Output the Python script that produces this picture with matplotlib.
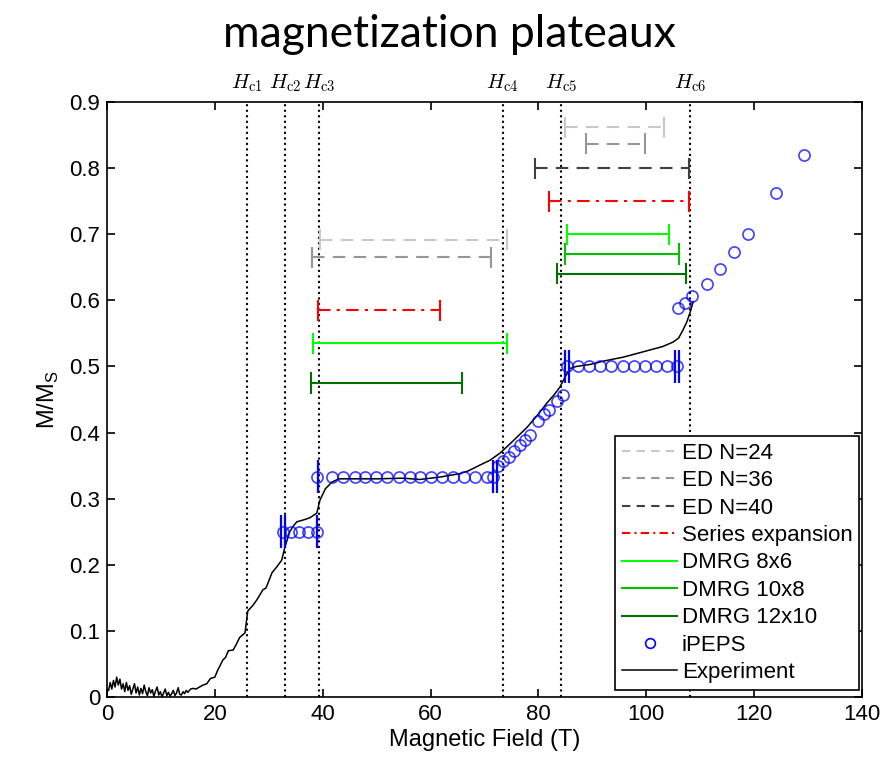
import numpy as np
from matplotlib import pyplot as plt
from matplotlib.lines import Line2D

plt.rcParams['font.family'] = ['Liberation Sans', 'DejaVu Sans']
plt.rcParams['mathtext.fontset'] = 'cm'

# Critical fields
hc_x = [26.0, 33.0, 39.3, 73.4, 84.2, 108.1]
hc_labels = [r'$H_{\mathrm{c1}}$', r'$H_{\mathrm{c2}}$', r'$H_{\mathrm{c3}}$',
             r'$H_{\mathrm{c4}}$', r'$H_{\mathrm{c5}}$', r'$H_{\mathrm{c6}}$']

# Plateau ranges: (x_start, x_end, y) for each method
ed24 = [(39.5, 74.2, 0.692), (84.9, 103.3, 0.862)]
ed36 = [(38.0, 71.2, 0.665), (88.8, 99.8, 0.837)]
ed40 = [(79.4, 107.9, 0.800)]
series = [(39.1, 61.7, 0.585), (82.0, 107.9, 0.750)]
dmrg86 = [(38.2, 74.2, 0.535), (85.3, 104.2, 0.700)]
dmrg108 = [(84.9, 106.1, 0.670)]
dmrg1210 = [(37.8, 65.8, 0.475), (83.4, 107.4, 0.640)]

# iPEPS
ipeps_x = [32.6, 34.1, 35.6, 37.3, 38.9,
           39.0, 41.7, 43.8, 45.9, 47.9, 49.9, 52.0, 54.1, 56.1, 58.1, 60.1,
           62.2, 64.2, 66.2, 68.2, 70.4, 71.5,
           72.5, 73.5, 74.5, 75.5, 76.5, 77.5, 78.5, 80.0, 81.0, 82.0, 83.5, 84.5,
           85.3, 87.3, 89.4, 91.4, 93.5, 95.7, 97.7, 99.8, 101.8, 103.8, 105.7,
           105.9, 107.2, 108.5, 111.3, 113.7, 116.3, 118.9, 124.1, 129.2]
ipeps_y = [0.25, 0.25, 0.25, 0.25, 0.25,
           0.333, 0.333, 0.333, 0.333, 0.333, 0.333, 0.333, 0.333, 0.333, 0.333, 0.333,
           0.333, 0.333, 0.333, 0.333, 0.333, 0.333,
           0.350, 0.357, 0.363, 0.372, 0.381, 0.388, 0.396, 0.418, 0.428, 0.434, 0.447, 0.457,
           0.50, 0.50, 0.50, 0.50, 0.50, 0.50, 0.50, 0.50, 0.50, 0.50, 0.50,
           0.588, 0.596, 0.606, 0.624, 0.648, 0.673, 0.701, 0.762, 0.820]
# iPEPS plateau edge markers (x, y)
edge_x = [32.3, 33.0, 38.9, 39.1, 71.6, 72.4, 84.9, 85.6, 105.4, 106.1]
edge_y = [0.25, 0.25, 0.25, 0.333, 0.333, 0.333, 0.50, 0.50, 0.50, 0.50]

# Experiment
exp_x = [0.3, 0.6, 0.9, 1.2, 1.5, 1.8, 2.1, 2.4, 2.7, 3.0, 3.3, 3.6, 3.9, 4.2, 4.5,
         4.8, 5.1, 5.4, 5.7, 6.0, 6.3, 6.6, 6.9, 7.2, 7.5, 7.8, 8.1, 8.4, 8.7, 9.0,
         9.3, 9.6, 9.9, 10.2, 10.5, 10.8, 11.1, 11.4, 11.7, 12.0, 12.3, 12.6, 12.9,
         13.2, 13.5, 13.8, 14.1, 14.4, 14.7, 15.0, 15.5, 16.0,
         16.5, 17.8, 18.5, 19.2, 20.0, 20.5, 21.5, 22.0, 22.5, 23.4, 24.0, 24.6, 25.6,
         26.1, 27.0, 27.8, 28.9, 29.5, 30.6, 31.5, 32.4, 33.0, 33.9, 34.5, 35.2, 36.5,
         37.6, 38.9, 39.5, 40.5, 41.7, 43.0, 45.0, 50.0, 55.0, 58.0, 62.0, 65.5, 67.0,
         69.2, 71.0, 72.9, 75.0, 77.9, 80.0, 81.6, 83.0, 84.0, 85.0, 85.9, 87.0, 89.6,
         92.0, 95.7, 98.0, 100.7, 103.0, 105.0, 106.0, 106.8, 107.5, 108.1, 108.7]
exp_y = [0.010, 0.022, 0.012, 0.025, 0.015, 0.030, 0.018, 0.027, 0.012, 0.020, 0.008,
         0.022, 0.010, 0.017, 0.004, 0.012, 0.020, 0.006, 0.015, 0.003, 0.013, 0.005,
         0.018, 0.008, 0.002, 0.014, 0.006, 0.011, 0.001, 0.009, 0.015, 0.003, 0.008,
         0.000, 0.006, 0.012, 0.002, 0.007, 0.001, 0.005, 0.010, 0.002, 0.006, 0.014,
         0.004, 0.003, 0.008, 0.005, 0.010, 0.007, 0.012, 0.013,
         0.012, 0.018, 0.020, 0.028, 0.030, 0.040, 0.056, 0.060, 0.070, 0.071, 0.080,
         0.090, 0.097, 0.130, 0.138, 0.147, 0.162, 0.165, 0.188, 0.197, 0.207, 0.227,
         0.250, 0.258, 0.265, 0.268, 0.271, 0.278, 0.298, 0.315, 0.325, 0.330, 0.330,
         0.330, 0.331, 0.329, 0.333, 0.338, 0.342, 0.351, 0.358, 0.369, 0.385, 0.408,
         0.428, 0.445, 0.458, 0.469, 0.485, 0.497, 0.500, 0.503, 0.508, 0.514, 0.519,
         0.525, 0.530, 0.537, 0.543, 0.555, 0.567, 0.581, 0.598]

fig = plt.figure(figsize=(8.87, 7.66), dpi=100)
ax = fig.add_axes([0.1206, 0.0901, 0.8512, 0.7767])

for x in hc_x:
    ax.axvline(x, color='black', ls=':', lw=1.5, zorder=1)
for x, lab in zip(hc_x, hc_labels):
    ax.text(x, 0.912, lab, ha='center', va='bottom', fontsize=15)

methods = [(ed24, '#c8c8c8', (0, (6, 4))), (ed36, '#969696', (0, (6, 4))),
           (ed40, '#404040', (0, (6, 4))), (series, 'red', (0, (6, 3, 1.5, 3))),
           (dmrg86, '#00ff00', '-'), (dmrg108, '#00c000', '-'),
           (dmrg1210, '#007000', '-')]
cap = 0.016
for ranges, col, ls in methods:
    for x0, x1, y in ranges:
        ax.plot([x0, x1], [y, y], color=col, ls=ls, lw=1.5, zorder=2)
        ax.vlines([x0, x1], y - cap, y + cap, color=col, lw=1.5, zorder=2)

ax.plot(exp_x, exp_y, color='black', lw=1.1, zorder=3)
ax.plot(ipeps_x, ipeps_y, 'o', mfc='none', mec='blue', ms=8, mew=1.2, alpha=0.75, zorder=4)
ax.vlines(edge_x, np.array(edge_y) - 0.025, np.array(edge_y) + 0.025, color='blue', lw=1.6, zorder=4)

ax.set_xlim(0, 140)
ax.set_ylim(0, 0.9)
ax.set_xticks([0, 20, 40, 60, 80, 100, 120, 140])
ax.set_yticks([0, 0.1, 0.2, 0.3, 0.4, 0.5, 0.6, 0.7, 0.8, 0.9])
ax.set_yticklabels(['0', '0.1', '0.2', '0.3', '0.4', '0.5', '0.6', '0.7', '0.8', '0.9'])
ax.tick_params(direction='in', top=True, right=True, labelsize=16, length=6, width=1.2, pad=5)
for s in ax.spines.values():
    s.set_linewidth(1.2)
ax.set_xlabel('Magnetic Field (T)', fontsize=17, labelpad=3)
ax.set_ylabel(r'M/M$_\mathregular{S}$', fontsize=17, labelpad=6)

handles = [Line2D([], [], color='#c8c8c8', ls=(0, (4, 3)), lw=1.5),
           Line2D([], [], color='#969696', ls=(0, (4, 3)), lw=1.5),
           Line2D([], [], color='#404040', ls=(0, (4, 3)), lw=1.5),
           Line2D([], [], color='red', ls=(0, (4, 2, 1, 2)), lw=1.5),
           Line2D([], [], color='#00ff00', lw=1.5),
           Line2D([], [], color='#00c000', lw=1.5),
           Line2D([], [], color='#007000', lw=1.5),
           Line2D([], [], ls='none', marker='o', mfc='none', mec='blue', ms=7, mew=1.2),
           Line2D([], [], color='black', lw=1.1)]
labels = ['ED N=24', 'ED N=36', 'ED N=40', 'Series expansion', 'DMRG 8x6',
          'DMRG 10x8', 'DMRG 12x10', 'iPEPS', 'Experiment']
leg = ax.legend(handles, labels, loc='lower right', bbox_to_anchor=(0.9965, 0.012),
                fontsize=16, fancybox=False, framealpha=1, edgecolor='black',
                handlelength=2.5, handletextpad=0.2, labelspacing=0.29, borderpad=0.3,
                borderaxespad=0)
leg.get_frame().set_linewidth(1.2)

fig.text(0.507, 0.955, 'magnetization plateaux', ha='center', va='center',
         fontsize=32, family=['Lato', 'DejaVu Sans'])

plt.savefig('out.png', dpi=100)
